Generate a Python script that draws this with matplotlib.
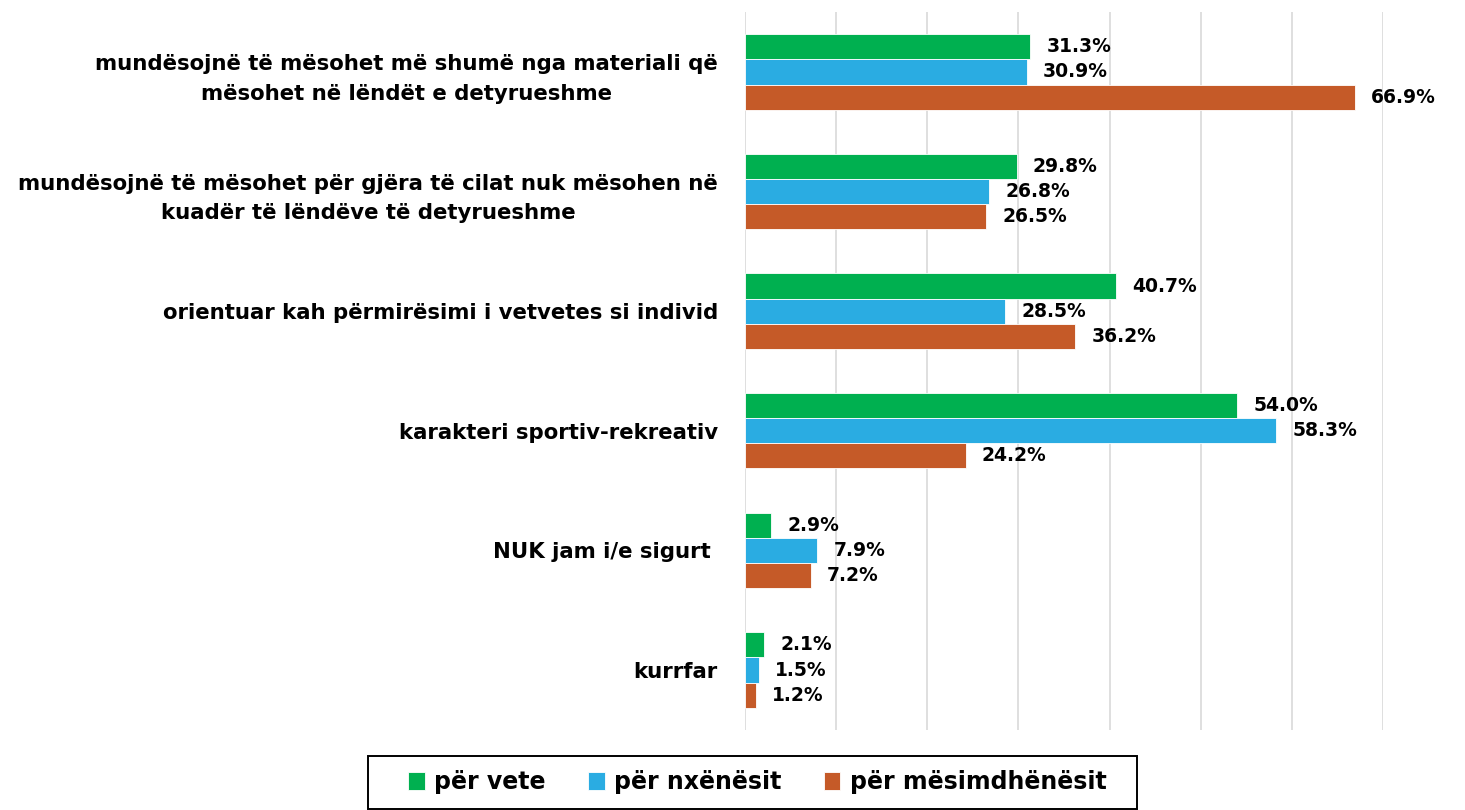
import matplotlib.pyplot as plt
from matplotlib.patches import Rectangle
import numpy as np

plt.rcParams['font.family'] = ['DejaVu Sans']

kategorite = [
    'mundësojnë të mësohet më shumë nga materiali që\nmësohet në lëndët e detyrueshme',
    'mundësojnë të mësohet për gjëra të cilat nuk mësohen në\nkuadër të lëndëve të detyrueshme',
    'orientuar kah përmirësimi i vetvetes si individ',
    'karakteri sportiv-rekreativ',
    'NUK jam i/e sigurt ',
    'kurrfar',
]
per_vete = [31.3, 29.8, 40.7, 54.0, 2.9, 2.1]
per_nxenesit = [30.9, 26.8, 28.5, 58.3, 7.9, 1.5]
per_mesimdhenesit = [66.9, 26.5, 36.2, 24.2, 7.2, 1.2]

seritë = [
    ('për vete', per_vete, '#00B050'),
    ('për nxënësit', per_nxenesit, '#2AACE2'),
    ('për mësimdhënësit', per_mesimdhenesit, '#C55A28'),
]

fig = plt.figure(figsize=(14.65, 8.1), dpi=100)
ax = fig.add_axes([0.5085, 0.099, 0.4355, 0.886])

y = np.arange(len(kategorite))
h = 0.21
for i, (emri, vlerat, ngjyra) in enumerate(seritë):
    pos = y + (i - 1) * h
    bars = ax.barh(pos, vlerat, height=h, color=ngjyra, label=emri,
                   edgecolor='white', linewidth=0.6, zorder=3)
    for b, v in zip(bars, vlerat):
        ax.text(b.get_width() + 1.8, b.get_y() + b.get_height() / 2,
                f'{v:.1f}%', va='center', ha='left', fontsize=13.5,
                fontweight='bold', color='black')

ax.set_xlim(0, 70)
ax.set_ylim(len(kategorite) - 0.5, -0.5)
ax.set_xticks(np.arange(0, 71, 10))
ax.set_xticklabels([])
ax.tick_params(axis='x', length=0)
ax.tick_params(axis='y', length=0, pad=19.5)
ax.set_yticks(y)
ax.set_yticklabels(kategorite, fontsize=15.3, fontweight='bold', ha='right',
                   multialignment='center', linespacing=1.6)
ax.grid(axis='x', color='#d9d9d9', linewidth=1.2, zorder=0)
for s in ax.spines.values():
    s.set_visible(False)

# kutia e legjendës
kutia = Rectangle((368 / 1465, 1 - 809 / 810), (1137 - 368) / 1465, 53 / 810,
                  transform=fig.transFigure, fill=False, edgecolor='black',
                  linewidth=1.4)
fig.patches.append(kutia)

leg = fig.legend(loc='center', bbox_to_anchor=(0.517, 0.034), ncol=3,
                 prop={'weight': 'bold', 'size': 17},
                 frameon=False, handlelength=0.7, handleheight=0.8,
                 handletextpad=0.4, columnspacing=1.8)

fig.savefig('out.png', dpi=100)
